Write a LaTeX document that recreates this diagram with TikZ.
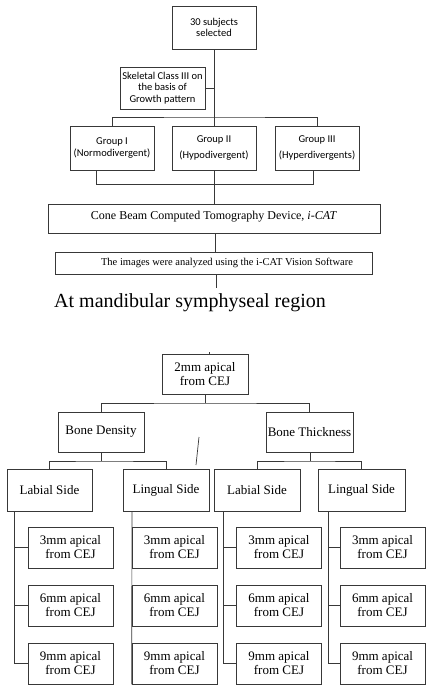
\documentclass[tikz,border=0pt]{standalone}
\usepackage{fontspec}
\setmainfont{Liberation Serif}
\newfontfamily\calfont{Carlito}
\begin{document}
\begin{tikzpicture}[x=1pt,y=-1pt,
  ln/.style={draw=black!78,line width=0.7pt},
  cbox/.style={ln,inner sep=0pt,align=center,font=\calfont\fontsize{10.5}{11.5}\selectfont},
  tbox/.style={ln,inner sep=0pt,align=center,font=\fontsize{13}{14}\selectfont},
  leaf/.style={tbox,minimum width=85pt,minimum height=41pt}]
\useasboundingbox (0,0) rectangle (435,691);
% top part
\node[cbox,minimum width=84pt,minimum height=43pt] (top) at (214,27.5) {30 subjects\\selected};
\node[cbox,minimum width=85pt,minimum height=42pt] (skel) at (162.5,88) {Skeletal Class III on\\the basis of\\Growth pattern};
\node[cbox,minimum width=84pt,minimum height=44pt] (g1) at (112,148) {Group I\\(Normodivergent)};
\node[cbox,minimum width=84pt,minimum height=44pt] (g2) at (214,148) {Group II\\[5pt](Hypodivergent)};
\node[cbox,minimum width=84pt,minimum height=44pt] (g3) at (317,148) {Group III\\[5pt](Hyperdivergents)};
\node[ln,inner sep=0pt,minimum width=332pt,minimum height=29pt,font=\fontsize{12}{13}\selectfont] (cbct) at (214,218.5) {\raisebox{7pt}{Cone Beam Computed Tomography Device, \textit{i-CAT}}};
\node[ln,inner sep=0pt,minimum width=317pt,minimum height=22pt,font=\fontsize{10.5}{12}\selectfont] (imgs) at (213.5,263) {\hspace*{27pt}The images were analyzed using the i-CAT Vision Software};
\node[anchor=base west,inner sep=0pt,font=\fontsize{20}{22}\selectfont] (title) at (54,307) {At mandibular symphyseal region};
\coordinate (j1) at (214,117);
\draw[ln] (top.south) -- (j1);
\draw[ln] (skel.east) -- (skel.east -| j1);
\draw[ln] (g1.north) |- (j1) -| (g3.north);
\draw[ln] (j1) -- (g2.north);
\coordinate (b1) at (96,184);
\coordinate (b3) at (313,184);
\draw[ln] (b1 |- g1.south) -- (b1) -- (b3) -- (b3 |- g3.south);
\draw[ln] (g2.south) -- (cbct.north);
\draw[ln] (cbct.south -| 215,0) -- (imgs.north -| 215,0);
\coordinate (tl) at (216,288);
\draw[ln] (imgs.south -| tl) -- (tl);
% bottom part
\node[tbox,minimum width=86pt,minimum height=40pt] (mm2) at (205,374) {2mm apical\\from CEJ};
\node[tbox,minimum width=86pt,minimum height=40pt] (bd) at (101,432) {Bone Density};
\node[tbox,minimum width=87pt,minimum height=40pt] (bt) at (309.5,432) {Bone Thickness};
\node[tbox,minimum width=85pt,minimum height=42pt] (lab1) at (49.5,490) {Labial Side};
\node[tbox,minimum width=86pt,minimum height=42pt] (lin1) at (166,490) {Lingual Side};
\node[tbox,minimum width=86pt,minimum height=42pt] (lab2) at (257,490) {Labial Side};
\node[tbox,minimum width=87pt,minimum height=42pt] (lin2) at (361.5,490) {Lingual Side};
\coordinate (tick) at (209,352);
\draw[ln] (tick) -- (mm2.north -| tick);
\coordinate (s1) at (199,437);
\coordinate (s2) at (196,465);
\draw[ln] (s1) -- (s2);
\coordinate (m1) at (205,403);
\draw[ln] (mm2.south) -- (m1);
\draw[ln] (bd.north) |- (m1) -| (bt.north);
\coordinate (d1) at (101,461);
\draw[ln] (bd.south) -- (d1);
\draw[ln] (lab1.north) |- (d1) -| (lin1.north);
\coordinate (d2) at (310,461);
\draw[ln] (bt.south -| d2) -- (d2);
\draw[ln] (lab2.north) |- (d2) -| (lin2.north);
% leaves
\foreach \c/\x in {1/70.5,2/174.5,3/279,4/382.5}{
  \node[leaf] (l\c1) at (\x,547.5) {3mm apical\\from CEJ};
  \node[leaf] (l\c2) at (\x,605.5) {6mm apical\\from CEJ};
  \node[leaf] (l\c3) at (\x,663.5) {9mm apical\\from CEJ};
}
\coordinate (v1) at (14,0);
\coordinate (v2) at (132,0);
\coordinate (v3) at (223,0);
\coordinate (v4) at (328,0);
\draw[ln] (v1 |- lab1.south) |- (l13.west);
\draw[ln] (v1 |- l11.west) -- (l11.west);
\draw[ln] (v1 |- l12.west) -- (l12.west);
\draw[ln] (v2 |- lin1.south) -- (l23.south west);
\draw[ln] (v3 |- lab2.south) |- (l33.west);
\draw[ln] (v3 |- l31.west) -- (l31.west);
\draw[ln] (v3 |- l32.west) -- (l32.west);
\draw[ln] (v4 |- lin2.south) |- (l43.west);
\draw[ln] (v4 |- l41.west) -- (l41.west);
\draw[ln] (v4 |- l42.west) -- (l42.west);
\end{tikzpicture}
\end{document}
